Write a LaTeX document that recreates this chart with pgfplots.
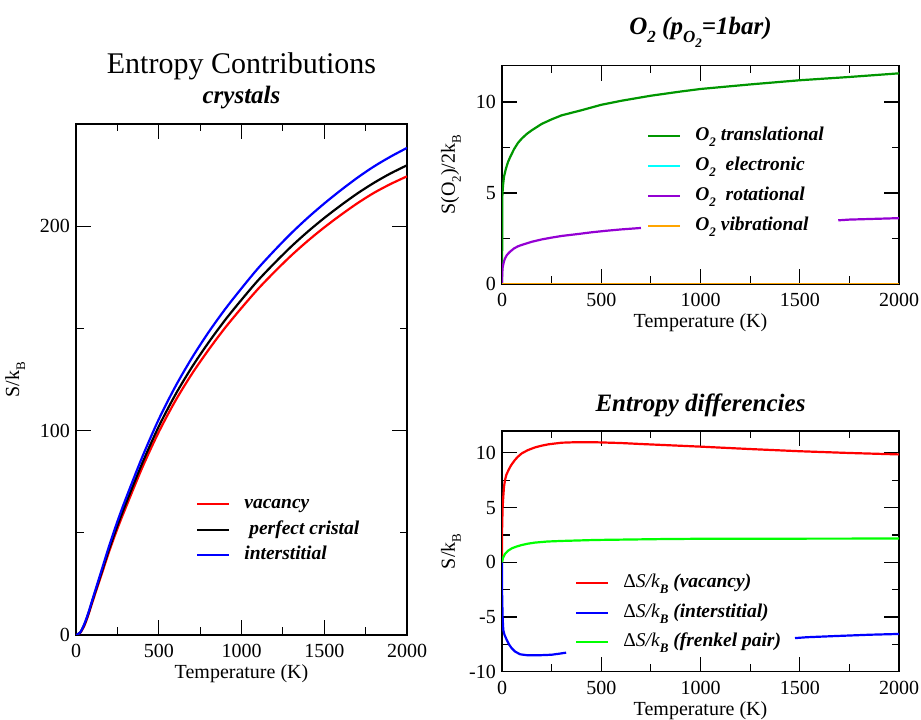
\documentclass[border=0pt]{standalone}
\usepackage{fontspec}
\setmainfont{Liberation Serif}[BoldItalicFont={Liberation Serif Bold Italic}, BoldFont={Liberation Serif Bold}, ItalicFont={Liberation Serif Italic}]
\usepackage{pgfplots}
\pgfplotsset{compat=1.18}
\definecolor{ggreen}{RGB}{0,150,0}
\definecolor{gviolet}{RGB}{148,0,211}
\definecolor{gorange}{RGB}{255,165,0}
\definecolor{gcyan}{RGB}{0,255,255}
\definecolor{bgreen}{RGB}{0,255,0}
\newcommand{\sub}[1]{\raisebox{-0.3em}{\fontsize{13}{13}\selectfont #1}}
\newcommand{\subt}[1]{\raisebox{-0.3em}{\fontsize{17}{17}\selectfont #1}}
\pgfplotsset{
  gracestyle/.style={
    scale only axis, anchor=south west, clip mode=individual,
    xmin=0, xmax=2000, xtick={0,500,1000,1500,2000},
    minor xtick={250,750,1250,1750},
    minor y tick num=1,
    xtick pos=both, ytick pos=both,
    xtick align=inside, ytick align=inside,
    major tick length=15pt, minor tick length=7.5pt,
    axis line style={line width=1.1pt, black},
    xtick style={line width=1.2pt, black},
    ytick style={line width=1.2pt, black},
    minor tick style={line width=1.2pt, black},
    major tick style={line width=1.2pt, black},
    tick label style={font=\fontsize{20}{20}\selectfont},
    /pgf/number format/assume math mode=true,
    /pgf/number format/1000 sep={},
    xticklabel={\pgfmathprintnumber{\tick}},
    yticklabel={\pgfmathprintnumber{\tick}},
    xticklabel style={inner sep=0pt, yshift=-9pt},
    yticklabel style={inner sep=0pt, xshift=-6pt},
    xlabel={Temperature (K)},
    xlabel style={at={(axis description cs:0.5,0)}, anchor=base, yshift=-44pt, font=\fontsize{20}{20}\selectfont},
    ylabel style={anchor=center, font=\fontsize{20}{20}\selectfont},
    title style={at={(axis description cs:0.5,1)}, anchor=base, font=\fontsize{25}{25}\selectfont\bfseries\itshape},
    legend image code/.code={\draw[line width=2.2pt,##1] (0pt,0pt) -- (32pt,0pt);},
    legend style={draw=none, fill=white, inner sep=0pt, column sep=14pt,
      font=\fontsize{19.5}{19.5}\selectfont\bfseries\itshape,
      nodes={inner sep=0pt, text height=14pt, text depth=5pt}},
    legend cell align=left,
    unbounded coords=jump,
    every axis plot/.append style={line width=2.2pt, line join=round},
  }
}
\begin{document}
\begin{tikzpicture}
\useasboundingbox (0,0) rectangle (921pt,720pt);
% ---------------- left axis
\begin{axis}[gracestyle, at={(76pt,85pt)}, width=331pt, height=511pt,
  ymin=0, ymax=250, ytick={0,100,200},
  ylabel={S/k\sub{B}}, ylabel style={at={(axis description cs:-0.184,0.5)}},
  title={crystals}, title style={yshift=14.7pt},
  legend style={at={(axis description cs:0.3625,0.206)}, anchor=west, row sep=6.5pt}]
\addplot[red, smooth, tension=0.5] coordinates {(0,0) (25,1) (50,4.5) (75,9.9) (100,16.3) (150,28.5) (200,40.8) (250,52) (300,62.2) (400,81.8) (500,99.3) (600,114.5) (700,127.7) (800,139.4) (900,150.2) (1000,160) (1100,169.3) (1200,177.7) (1300,185.6) (1400,192.8) (1500,199.4) (1600,205.5) (1700,211.2) (1800,216.3) (1900,220.6) (2000,224.4)};
\addlegendentry{vacancy}
\addplot[black, smooth, tension=0.5] coordinates {(0,0) (25,1.2) (50,5) (75,10.5) (100,17) (150,29.5) (200,42) (250,53.5) (300,64) (400,84) (500,102) (600,117.5) (700,131) (800,143) (900,154) (1000,164) (1100,173.5) (1200,182) (1300,190) (1400,197.3) (1500,204) (1600,210.2) (1700,216) (1800,221.2) (1900,225.8) (2000,229.8)};
\addlegendentry{\ perfect cristal}
\addplot[blue, smooth, tension=0.5] coordinates {(0,0) (25,1.2) (50,5.3) (75,10.9) (100,17.5) (150,30.5) (200,43.5) (250,55.5) (300,66.5) (400,87) (500,105.5) (600,121.5) (700,135.5) (800,148) (900,159.3) (1000,169.6) (1100,179.4) (1200,188.2) (1300,196.5) (1400,204.1) (1500,211.1) (1600,217.6) (1700,223.7) (1800,229.2) (1900,234) (2000,238.3)};
\addlegendentry{interstitial}
\node[anchor=base, font=\fontsize{30}{30}\selectfont] at (rel axis cs:0.5,1) [yshift=50.7pt] {Entropy Contributions};
\end{axis}
% ---------------- top right axis
\begin{axis}[gracestyle, at={(502pt,436pt)}, width=397pt, height=218.3pt,
  ymin=0, ymax=12, ytick={0,5,10},
  ylabel={S(O\sub{2})/2k\sub{B}}, ylabel style={at={(axis description cs:-0.1285,0.5)}},
  title={O\subt{2} (p\subt{O\sub{2}}=1bar)}, title style={yshift=24.7pt},
  legend style={at={(axis description cs:0.3652,0.472)}, anchor=west, row sep=11pt}]
\addplot[ggreen] coordinates {(0,0) (1,2.5) (2,4.9) (5,5.4) (10,5.9) (20,6.35) (30,6.7) (40,6.95) (60,7.4) (80,7.75) (100,8.0) (125,8.25) (150,8.45) (200,8.8) (250,9.05) (300,9.27) (400,9.55) (500,9.85) (600,10.07) (750,10.35) (900,10.58) (1000,10.72) (1250,10.97) (1500,11.2) (1750,11.38) (2000,11.58)};
\addlegendentry{O\sub{2} translational}
\addplot[gcyan] coordinates {(0,0) (500,0) (1000,0) (1500,0) (2000,0)};
\addlegendentry{O\sub{2}\ \ electronic}
\addplot[gviolet] coordinates {(0,0) (1,0.55) (3,0.9) (5,1.0) (10,1.25) (15,1.4) (25,1.6) (40,1.77) (60,1.95) (80,2.07) (100,2.15) (150,2.32) (200,2.45) (250,2.55) (300,2.64) (385,2.75) (450,2.84) (520,2.92) (600,3.0) (700,3.08) (1200,nan) (1694,3.5) (1750,3.54) (2000,3.62)};
\addlegendentry{O\sub{2}\ \ rotational}
\addplot[gorange] coordinates {(0,0) (500,0) (1000,0) (1500,0) (2000,0)};
\addlegendentry{O\sub{2} vibrational}
\end{axis}
% ---------------- bottom right axis
\begin{axis}[gracestyle, at={(502pt,48.3pt)}, width=397pt, height=240.7pt,
  ymin=-10, ymax=12, ytick={-10,-5,0,5,10},
  ylabel={S/k\sub{B}}, ylabel style={at={(axis description cs:-0.1285,0.5)}},
  title={Entropy differencies}, title style={yshift=13.3pt},
  legend style={at={(axis description cs:0.1839,0.245)}, anchor=west, row sep=10.5pt}]
\addplot[red] coordinates {(0,0) (0.5,3.0) (3,5) (6.5,6.0) (10,6.9) (15,7.5) (22,8) (32,8.4) (45,8.85) (65,9.35) (80,9.65) (100,9.96) (130,10.25) (166,10.5) (200,10.66) (233,10.78) (300,10.93) (380,10.98) (470,10.97) (600,10.9) (700,10.81) (850,10.69) (1000,10.57) (1250,10.35) (1500,10.15) (1750,9.99) (2000,9.86)};
\addlegendentry{{\normalfont\upshape Δ}{\normalfont\itshape S/k}\sub{B} (vacancy)}
\addplot[blue] coordinates {(0,0) (0.5,-2.83) (3,-5) (6.5,-6.19) (12,-6.6) (24,-7.1) (35,-7.5) (49,-7.86) (65,-8.15) (91,-8.41) (130,-8.5) (183,-8.5) (250,-8.45) (290,-8.35) (323,-8.26) (900,nan) (1476,-6.93) (1535,-6.85) (1668,-6.75) (1854,-6.62) (2000,-6.55)};
\addlegendentry{{\normalfont\upshape Δ}{\normalfont\itshape S/k}\sub{B} (interstitial)}
\addplot[bgreen] coordinates {(0,0) (5,0.4) (15,0.76) (30,1.05) (50,1.28) (75,1.45) (100,1.58) (130,1.7) (166,1.8) (230,1.9) (300,1.95) (470,2.04) (800,2.12) (1000,2.15) (2000,2.17)};
\addlegendentry{{\normalfont\upshape Δ}{\normalfont\itshape S/k}\sub{B} (frenkel pair)}
\end{axis}
\end{tikzpicture}
\end{document}
